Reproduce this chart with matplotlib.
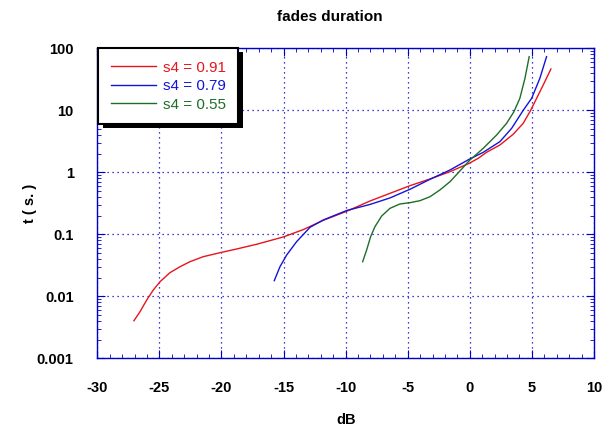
import matplotlib
matplotlib.use("Agg")
import matplotlib.pyplot as plt
from matplotlib.ticker import MultipleLocator, LogLocator, NullFormatter
from matplotlib.patches import Rectangle
from matplotlib.transforms import IdentityTransform

plt.rcParams['font.family'] = ['Liberation Sans', 'DejaVu Sans']

# data
red_x = [-27.05, -26.56, -26.02, -25.49, -24.95, -24.15, -23.34, -22.54, -21.47, -20.12,
         -18.78, -17.17, -15.02, -13.41, -11.80, -9.92, -8.04, -6.43, -4.82, -3.21, -1.60,
         -0.05, 0.68, 1.35, 2.42, 3.49, 4.30, 4.90, 5.38, 5.91, 6.53]
red_t = [0.00404, 0.00565, 0.00871, 0.01265, 0.01718, 0.02404, 0.02999, 0.03614, 0.04355,
         0.05047, 0.05794, 0.06902, 0.09057, 0.1191, 0.1683, 0.2350, 0.3443, 0.4581, 0.6081,
         0.7798, 1.023, 1.396, 1.683, 2.104, 2.754, 4.102, 6.166, 10.0, 15.63, 25.59, 46.35]

blue_x = [-15.75, -15.29, -14.75, -13.95, -12.87, -11.80, -9.92, -8.04, -6.43, -4.82, -3.21,
          -1.60, -0.05, 1.08, 2.42, 3.37, 4.30, 4.98, 5.64, 6.18]
blue_t = [0.01786, 0.02999, 0.04634, 0.07603, 0.1297, 0.1702, 0.2420, 0.3030, 0.3860, 0.5321,
          0.7709, 1.089, 1.622, 2.10, 3.119, 5.129, 10.0, 15.63, 32.81, 73.28]

green_x = [-8.63, -8.31, -7.99, -7.64, -7.10, -6.43, -5.63, -4.82, -4.02, -3.21, -2.41, -1.60,
           -0.85, 0.01, 1.08, 2.16, 2.96, 3.55, 4.03, 4.44, 4.78]
green_t = [0.03614, 0.05585, 0.09141, 0.1327, 0.1972, 0.2624, 0.3083, 0.3236, 0.3483, 0.4036,
           0.5188, 0.7047, 1.023, 1.578, 2.438, 4.000, 6.166, 9.484, 15.63, 32.81, 73.28]

labels = ['s4 = 0.91', 's4 = 0.79', 's4 = 0.55']
colors = ['#E8141C', '#1414D8', '#1E6E28']

x_ticks = [-30, -25, -20, -15, -10, -5, 0, 5, 10]
y_ticks = [0.001, 0.01, 0.1, 1, 10, 100]
y_ticklabels = ['0.001', '0.01', '0.1', '1', '10', '100']

axis_color = '#0000C8'

fig = plt.figure(figsize=(6.09, 4.29), dpi=100)
ax = fig.add_axes([97.3 / 609, 1 - 358.3 / 429, 496.7 / 609, 310 / 429])

series = [(red_x, red_t), (blue_x, blue_t), (green_x, green_t)]
for (xs, ts), lab, c in zip(series, labels, colors):
    ax.plot(xs, ts, color=c, lw=1.0, label=lab)

ax.set_yscale('log')
ax.set_xlim(-30, 10)
ax.set_ylim(0.001, 100)

ax.set_xticks(x_ticks)
ax.set_xticklabels([str(v) for v in x_ticks])
ax.xaxis.set_minor_locator(MultipleLocator(1))
ax.set_yticks(y_ticks)
ax.set_yticklabels(y_ticklabels)
ax.yaxis.set_minor_locator(LogLocator(base=10, subs=range(2, 10), numticks=20))
ax.yaxis.set_minor_formatter(NullFormatter())

for s in ax.spines.values():
    s.set_color(axis_color)
    s.set_linewidth(1.0)

ax.tick_params(which='both', direction='in', colors=axis_color, top=True, right=True,
               labelcolor='black')
ax.tick_params(which='major', length=6, width=0.8, labelsize=10.5)
ax.tick_params(which='minor', length=3, width=0.6)
ax.tick_params(axis='x', pad=16)
ax.tick_params(axis='y', pad=17)
for lab in ax.get_xticklabels() + ax.get_yticklabels():
    lab.set_fontweight('bold')

ax.grid(True, which='major', color=axis_color, linestyle=(0, (1, 3)), linewidth=0.9)

ax.set_xlabel('dB', fontsize=10.5, fontweight='bold', labelpad=13)
ax.set_ylabel('t ( s. )', fontsize=10.5, fontweight='bold', labelpad=0)
fig.text(330 / 609, 1 - 17 / 429, 'fades duration', ha='center', va='center',
         fontsize=11, fontweight='bold')

leg = ax.legend(loc='upper left', bbox_to_anchor=(0.002, 1.0), borderaxespad=0,
                fontsize=11, frameon=True, fancybox=False, framealpha=1,
                edgecolor='black', handlelength=3.0, labelspacing=0.3,
                borderpad=0.8, handletextpad=0.45)
leg.get_frame().set_linewidth(1.5)
for txt, c in zip(leg.get_texts(), colors):
    txt.set_color(c)
leg.set_zorder(5)

fig.canvas.draw()
bb = leg.get_window_extent()
shadow = Rectangle((bb.x0 + 5, bb.y0 - 4), bb.width, bb.height, transform=IdentityTransform(),
                   facecolor='black', edgecolor='none', zorder=4.9, clip_on=False)
ax.add_artist(shadow)

fig.savefig('out.png', dpi=100)
